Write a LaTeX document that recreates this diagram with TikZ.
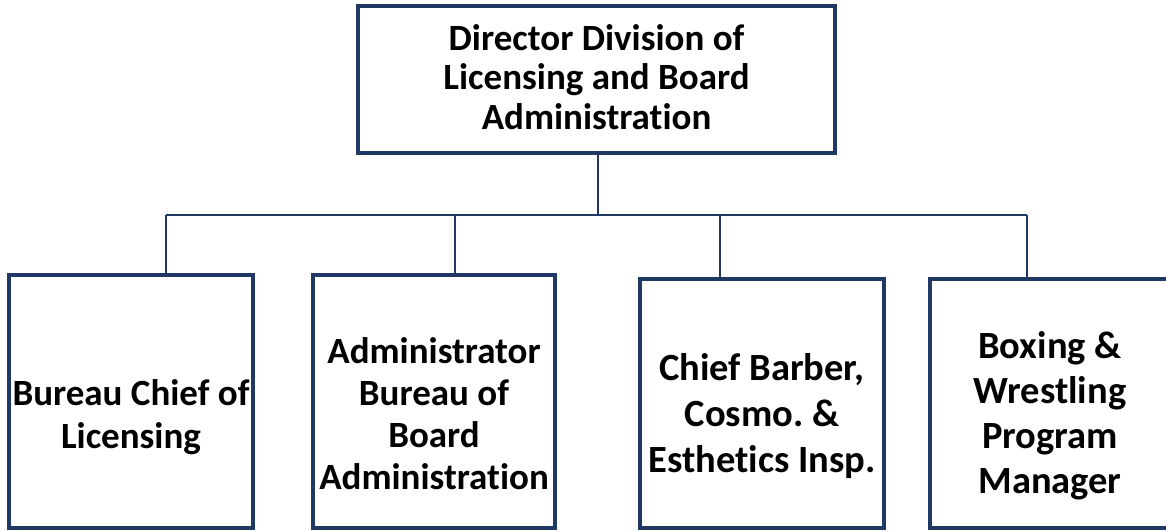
\documentclass[tikz,border=0pt]{standalone}
\usepackage{fontspec}
\setmainfont{Carlito}[Ligatures=NoCommon]
\definecolor{navy}{HTML}{1F3864}
\frenchspacing
\begin{document}
\begin{tikzpicture}[x=1pt,y=-1pt,
  box/.style={draw=navy,line width=4pt,fill=white},
  lbl/.style 2 args={align=center,font=\bfseries\fontsize{#1}{#2}\selectfont},
  conn/.style={draw=navy,line width=1.6pt}]
\useasboundingbox (0,0) rectangle (1166,531);
% connectors
\coordinate (hl) at (166,215);
\coordinate (hr) at (1027,215);
\coordinate (hm) at (598,215);
\draw[conn] (hl) -- (hr);
% boxes
\draw[box] (358,6) rectangle (835,153);
\node[lbl={37}{39.5}] (top) at (596.5,77) {Director Division of\\Licensing and Board\\Administration};
\coordinate (topb) at (598,153);
\draw[box] (9,275) rectangle (253,528);
\node[lbl={37}{43}] (b1) at (131,417) {Bureau Chief of\\Licensing};
\draw[box] (313,275) rectangle (555,528);
\node[lbl={37}{42}] (b2) at (434,414) {Administrator\\Bureau of\\Board\\Administration};
\draw[box] (640,279) rectangle (884,528);
\node[lbl={38.5}{46}] (b3) at (762,416.5) {Chief Barber,\\Cosmo. \&\\Esthetics Insp.};
\draw[box] (930,279) rectangle (1180,528);
\node[lbl={38.5}{45}] (b4) at (1050,416) {Boxing \&\\Wrestling\\Program\\Manager};
\coordinate (t1) at (166,275);
\coordinate (t2) at (455,275);
\coordinate (t3) at (720,279);
\coordinate (t4) at (1027,279);
\draw[conn] (topb) -- (hm);
\draw[conn] (t1) -- (166,215);
\draw[conn] (t2) -- (455,215);
\draw[conn] (t3) -- (720,215);
\draw[conn] (t4) -- (1027,215);
\end{tikzpicture}
\end{document}
